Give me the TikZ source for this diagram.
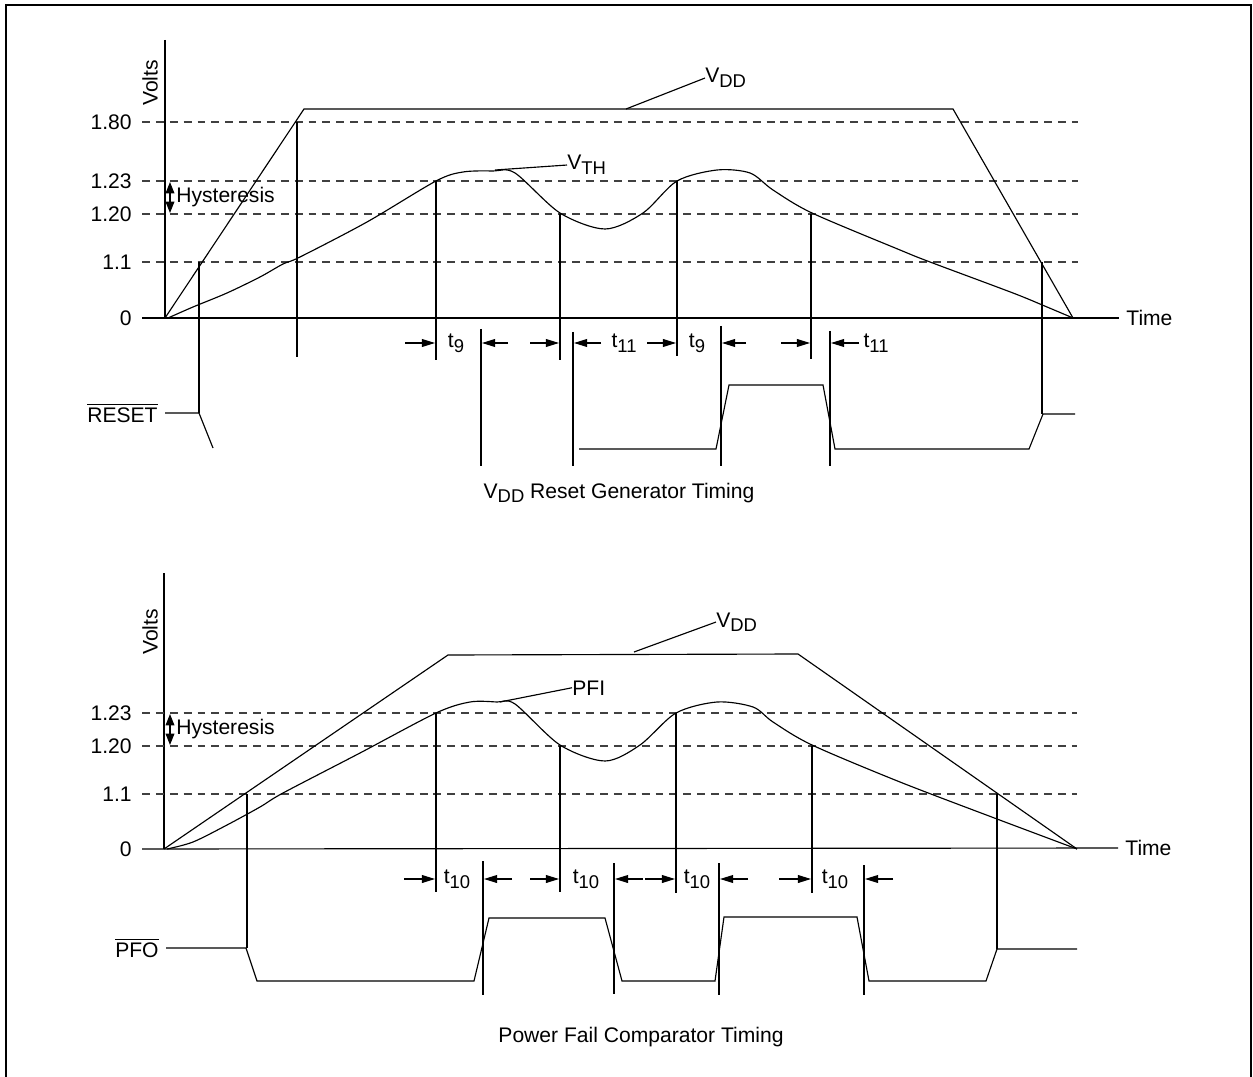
\documentclass[tikz,border=0pt]{standalone}
\usepackage{fontspec}
\setmainfont{Liberation Sans}
\usetikzlibrary{arrows.meta}

\newcommand{\lowsub}[1]{\raisebox{-2.6pt}{\fontsize{10.5}{11}\selectfont #1}}
\newcommand{\barsig}[1]{$\overline{\mbox{#1}}$}

\begin{document}
\begin{tikzpicture}[
        x=0.02cm, y=-0.02cm,
        every node/.style={font=\fontsize{12}{14}\selectfont, inner sep=1pt},
        sig/.style={line width=0.65pt},
        guide/.style={line width=0.65pt},
        thresh/.style={line width=0.65pt, black!75, dash pattern=on 4.5pt off 3.4pt},
        tarrow/.style={line width=0.65pt, -{Triangle[length=7.5pt,width=4.5pt]}},
        hyst/.style={line width=0.65pt, {Triangle[length=6.5pt,width=5pt]}-{Triangle[length=6.5pt,width=5pt]}},
        ylab/.style={anchor=east, inner sep=0pt},
        callout/.style={anchor=base west, inner sep=0pt},
        tlab/.style={inner sep=0pt}
    ]
        \useasboundingbox (0,0) rectangle (1253,1077);
        \draw[line width=1pt] (6,1077) -- (6,5) -- (1251,5) -- (1251,1077);

        % Top chart: axes and levels
        \node[rotate=90] (voltsA) at (150,83) {Volts};
        \node[anchor=west, inner sep=4pt] (timeA) at (1119,318) {Time};
        \draw[sig] (165,40) -- (165,318);
        \draw[sig] (142,318) -- (timeA.west);
        \foreach \yy/\val in {122/1.80, 181/1.23, 214/1.20, 262/1.1} {
            \draw[thresh] (142,\yy) -- (1078,\yy);
            \node[ylab] (topy\yy) at (132,\yy) {\val};
        }
        \node[ylab] (topy0) at (132,318) {0};
        \draw[hyst] (170,182) -- (170,213);
        \node[anchor=west, inner sep=0pt] (hystA) at (176,197) {Hysteresis};

        % Top chart: curves
        \draw[sig] (165,318) -- (304,109) -- (953,109) -- (1073,318);
        \draw[sig] plot[smooth, tension=0.5] coordinates {(168,318) (193,307) (227,293) (260,277) (283,264) (300,257) (367,222) (436,181) (463,172) (493,171) (515,173) (560,213) (605,229) (643,213) (677,181) (717,170) (750,173) (773,190) (812,213) (900,250) (930,262) (1013,293) (1047,307) (1073,318)};
        \node[callout] (vddA) at (705,83) {V\lowsub{DD}};
        \node[callout] (vthA) at (567,170) {V\lowsub{TH}};
        \draw[sig] (626,109) -- (vddA.west);
        \draw[sig] (495,170) -- (vthA.west);

        % Top chart: guides
        \draw[guide] (199,262) -- (199,413);
        \draw[guide] (297,122) -- (297,357);
        \draw[guide] (436,181) -- (436,360);
        \draw[guide] (481,329) -- (481,466);
        \draw[guide] (560,214) -- (560,360);
        \draw[guide] (573,332) -- (573,466);
        \draw[guide] (677,181) -- (677,356);
        \draw[guide] (721,326) -- (721,466);
        \draw[guide] (811,214) -- (811,359);
        \draw[guide] (830,331) -- (830,466);
        \draw[guide] (1042,262) -- (1042,414);

        % Top chart: timing arrows
        \draw[tarrow] (405,343) -- (435,343);
        \draw[tarrow] (508,343) -- (482,343);
        \draw[tarrow] (530,343) -- (559,343);
        \draw[tarrow] (601,343) -- (574,343);
        \draw[tarrow] (647,343) -- (676,343);
        \draw[tarrow] (746,343) -- (722,343);
        \draw[tarrow] (781,343) -- (810,343);
        \draw[tarrow] (859,343) -- (831,343);
        \node[tlab] (t9a) at (456,343) {t\lowsub{9}};
        \node[tlab] (t11a) at (624,343) {t\lowsub{11}};
        \node[tlab] (t9b) at (697,343) {t\lowsub{9}};
        \node[tlab] (t11b) at (876,343) {t\lowsub{11}};

        % Top chart: reset output
        \node[anchor=east, inner sep=4pt] (resetA) at (165,413) {\barsig{RESET}};
        \draw[sig] (resetA.east) -- (199,413) -- (213,448);
        \draw[sig] (579,449) -- (716,449) -- (729,385) -- (823,385) -- (835,449) -- (1029,449) -- (1043,414) -- (1075,414);
        \node (capA) at (619,493) {V\lowsub{DD} Reset Generator Timing};

        % Bottom chart: axes and levels
        \node[rotate=90] (voltsB) at (150,632) {Volts};
        \node[anchor=west, inner sep=4pt] (timeB) at (1118,848) {Time};
        \draw[sig] (164,573) -- (164,849);
        \draw[sig] (142,849) -- (timeB.west);
        \foreach \yy/\val in {713/1.23, 746/1.20, 794/1.1} {
            \draw[thresh] (142,\yy) -- (1077,\yy);
            \node[ylab] (boty\yy) at (132,\yy) {\val};
        }
        \node[ylab] (boty0) at (132,849) {0};
        \draw[hyst] (170,714) -- (170,745);
        \node[anchor=west, inner sep=0pt] (hystB) at (176,729) {Hysteresis};

        % Bottom chart: curves
        \draw[sig] (164,849) -- (448,655) -- (798,654) -- (1077,849);
        \draw[sig] plot[smooth, tension=0.5] coordinates {(167,849) (193,842) (227,825) (260,807) (283,793) (360,753) (436,713) (470,702) (497,702) (515,704) (560,745) (605,761) (640,745) (676,713) (717,702) (753,707) (773,722) (812,745) (900,782) (997,819) (1077,849)};
        \node[callout] (vddB) at (716,627) {V\lowsub{DD}};
        \node[callout] (pfiB) at (572,695) {PFI};
        \draw[sig] (634,652) -- (vddB.west);
        \draw[sig] (500,702) -- (pfiB.west);

        % Bottom chart: guides
        \draw[guide] (247,794) -- (247,948);
        \draw[guide] (436,713) -- (436,892);
        \draw[guide] (483,861) -- (483,995);
        \draw[guide] (560,746) -- (560,892);
        \draw[guide] (614,863) -- (614,994);
        \draw[guide] (676,713) -- (676,893);
        \draw[guide] (719,863) -- (719,995);
        \draw[guide] (812,746) -- (812,893);
        \draw[guide] (864,865) -- (864,995);
        \draw[guide] (997,794) -- (997,949);

        % Bottom chart: timing arrows
        \draw[tarrow] (404,879) -- (435,879);
        \draw[tarrow] (512,879) -- (484,879);
        \draw[tarrow] (530,879) -- (559,879);
        \draw[tarrow] (643,879) -- (615,879);
        \draw[tarrow] (645,879) -- (675,879);
        \draw[tarrow] (748,879) -- (720,879);
        \draw[tarrow] (779,879) -- (811,879);
        \draw[tarrow] (893,879) -- (865,879);
        \node[tlab] (t10a) at (457,879) {t\lowsub{10}};
        \node[tlab] (t10b) at (586,879) {t\lowsub{10}};
        \node[tlab] (t10c) at (697,879) {t\lowsub{10}};
        \node[tlab] (t10d) at (835,879) {t\lowsub{10}};

        % Bottom chart: comparator output
        \node[anchor=east, inner sep=4pt] (pfoB) at (166,948) {\barsig{PFO}};
        \draw[sig] (pfoB.east) -- (246,948) -- (257,981) -- (474,981) -- (489,918) -- (605,918) -- (622,981) -- (715,981) -- (724,917) -- (857,917) -- (869,981) -- (986,981) -- (997,949) -- (1077,949);
        \node (capB) at (641,1037) {Power Fail Comparator Timing};

    \end{tikzpicture}
\end{document}
